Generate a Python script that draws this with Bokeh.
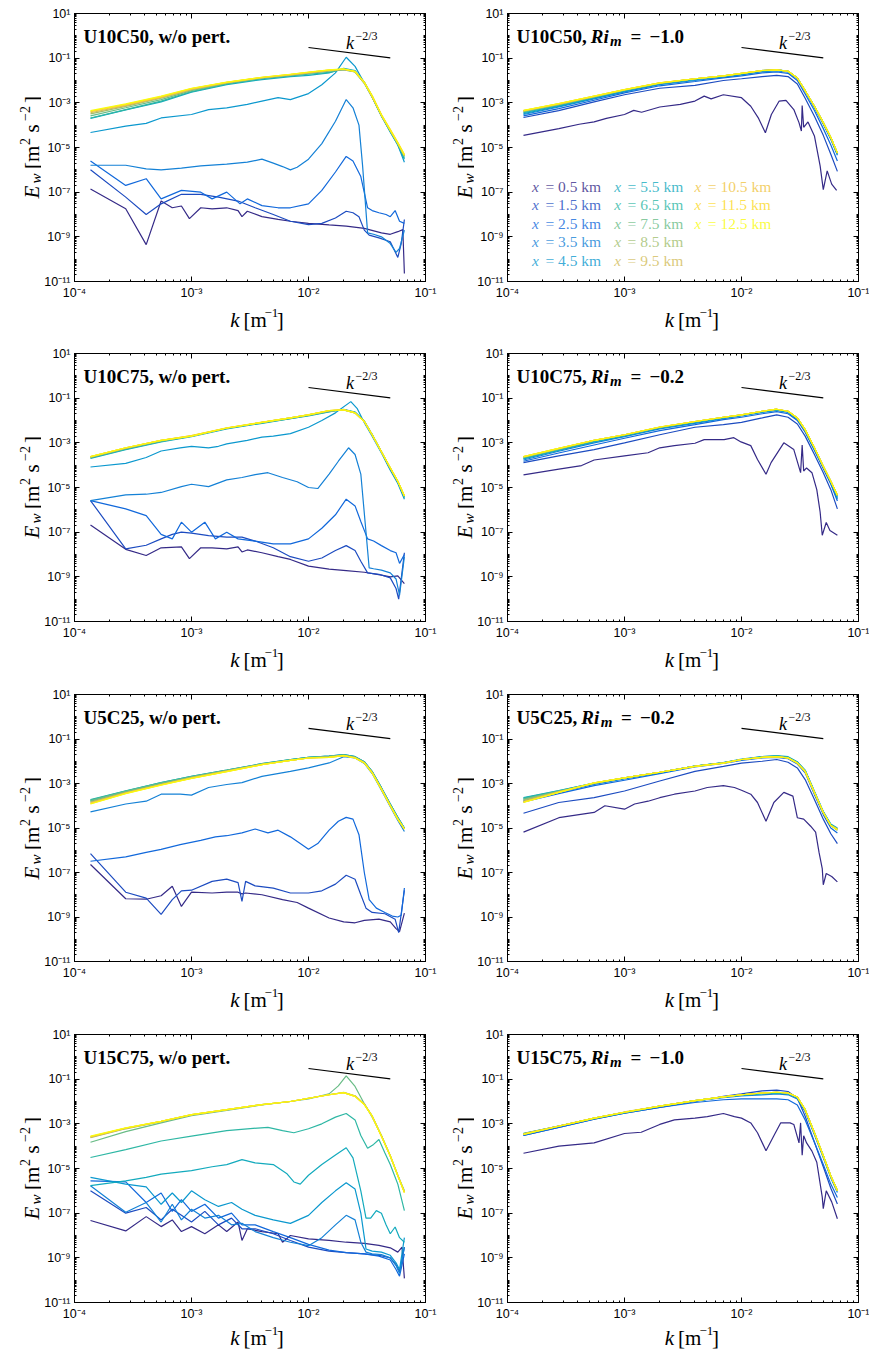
import math

from bokeh.embed import file_html
from bokeh.layouts import column, row
from bokeh.models import FixedTicker, Label, LogAxis, Range1d
from bokeh.plotting import figure
from bokeh.resources import INLINE

# ---------------------------------------------------------------- series
DISTANCES_KM = [0.5, 1.5, 2.5, 3.5, 4.5, 5.5, 6.5, 7.5, 8.5, 9.5, 10.5, 11.5, 12.5]
LINE_COLORS = ["#352A87", "#1C4BC0", "#1168DB", "#1481D6", "#0B98CE", "#13AABD", "#2EB7A4",
               "#69BC86", "#A0BE6D", "#D1BB59", "#EFC43F", "#FCD926", "#F9FB0E"]

# common wavenumber grid [1/m] for the well-developed spectra
KB = [1.37e-4, 2.74e-4, 5.5e-4, 1e-3, 2e-3, 4e-3, 7e-3, 1e-2, 1.5e-2, 2e-2, 2.5e-2,
      3e-2, 3.5e-2, 4.2e-2, 5e-2, 5.8e-2, 6.6e-2]

# reference slope k^(-2/3)
REF_K = [1e-2, 5e-2]
REF_E = [0.3, 0.103]

# --- U10C50, no perturbation
U10C50_NOPERT = [
    ([1.37e-4, 2.74e-4, 4.1e-4, 5.5e-4, 6.85e-4, 8.2e-4, 9.6e-4, 1.2e-3, 1.5e-3, 2e-3, 2.5e-3, 2.7e-3, 3e-3,
      4e-3, 5.5e-3, 7e-3, 1e-2, 1.5e-2, 2.1e-2, 3e-2, 4.2e-2, 5e-2, 5.8e-2, 6.4e-2, 6.6e-2],
     [1.4e-7, 1.8e-8, 4.5e-10, 4e-8, 2e-8, 2.4e-8, 6.5e-9, 2e-8, 1.8e-8, 2e-8, 1.5e-8, 8e-9, 1.4e-8,
      8e-9, 6e-9, 5e-9, 4e-9, 3.4e-9, 3e-9, 2.4e-9, 1.5e-9, 1.3e-9, 1.7e-9, 2.1e-9, 2.3e-11]),
    ([1.37e-4, 2.74e-4, 4.1e-4, 5.5e-4, 8.2e-4, 1.2e-3, 1.7e-3, 2.5e-3, 3.5e-3, 5e-3, 7e-3, 1e-2, 1.3e-2,
      1.7e-2, 2.1e-2, 2.4e-2, 2.7e-2, 3e-2, 3.3e-2, 4e-2, 5e-2, 5.8e-2, 6.2e-2, 6.6e-2],
     [1e-6, 6e-8, 1e-8, 3e-8, 8e-8, 8e-8, 6e-8, 4e-8, 2e-8, 1e-8, 5e-9, 3.5e-9, 4e-9,
      7e-9, 1.4e-8, 1.2e-8, 8e-9, 2e-9, 1.2e-9, 9e-10, 6e-10, 1.2e-10, 5e-10, 6e-9]),
    ([1.37e-4, 2.74e-4, 4.1e-4, 5.5e-4, 8.2e-4, 1.2e-3, 1.5e-3, 2e-3, 2.6e-3, 3e-3, 4e-3, 5.5e-3, 7e-3,
      1e-2, 1.3e-2, 1.7e-2, 2.1e-2, 2.4e-2, 2.8e-2, 3.2e-2, 3.5e-2, 4e-2, 4.6e-2, 5e-2, 5.5e-2, 6e-2, 6.6e-2],
     [2.5e-6, 2e-7, 4e-7, 5e-8, 1.2e-7, 1e-7, 5e-8, 1e-7, 3e-8, 5e-8, 2.5e-8, 2e-8, 2e-8,
      3e-8, 1.2e-7, 8e-7, 4e-6, 2.5e-6, 5e-7, 2e-8, 1.5e-8, 1.2e-8, 1e-8, 8e-9, 1.5e-8, 5e-9, 4e-9]),
    ([1.37e-4, 2.74e-4, 4.1e-4, 5.5e-4, 8.2e-4, 1.2e-3, 2e-3, 3e-3, 4e-3, 5e-3, 6e-3, 7e-3, 8e-3,
      1e-2, 1.3e-2, 1.7e-2, 2.1e-2, 2.4e-2, 2.7e-2, 2.9e-2, 3.2e-2, 3.6e-2, 4.2e-2, 5e-2, 5.6e-2, 6e-2, 6.6e-2],
     [1.6e-6, 1.6e-6, 1.1e-6, 1e-6, 1.2e-6, 1.5e-6, 1.8e-6, 2.2e-6, 3e-6, 2e-6, 1.4e-6, 1e-6, 1.3e-6,
      3e-6, 1.5e-5, 1.5e-4, 1.4e-3, 6e-4, 1e-4, 1.5e-6, 1.5e-9, 1.3e-9, 1e-9, 5e-10, 2e-10, 3e-10, 2e-9]),
    ([1.37e-4, 2.74e-4, 4.1e-4, 5.5e-4, 1e-3, 1.4e-3, 2e-3, 3e-3, 4e-3, 5.5e-3, 7e-3, 1e-2, 1.3e-2,
      1.7e-2, 2.1e-2, 2.5e-2, 3e-2, 3.5e-2, 4.2e-2, 5e-2, 5.8e-2, 6.6e-2],
     [4.7e-5, 9e-5, 1.2e-4, 2.1e-4, 3e-4, 5e-4, 6e-4, 8.5e-4, 1.2e-3, 1.7e-3, 1.4e-3, 2.6e-3, 6.5e-3,
      2.2e-2, 1.1e-1, 4.3e-2, 7.7e-3, 1.8e-3, 2.5e-4, 5e-5, 1.3e-5, 2.2e-6]),
    (KB, [2e-4, 4.8e-4, 1.1e-3, 3e-3, 6.5e-3, 1.1e-2, 1.5e-2, 1.7e-2, 2.2e-2, 3.5e-2, 2.8e-2, 8.5e-3, 2e-3, 2.7e-4, 5e-5, 1.3e-5, 3e-6]),
    (KB, [2.1e-4, 5e-4, 1.2e-3, 3.2e-3, 7e-3, 1.2e-2, 1.6e-2, 1.9e-2, 2.3e-2, 3.2e-2, 2.6e-2, 8e-3, 1.9e-3, 2.7e-4, 5.5e-5, 1.4e-5, 3.5e-6]),
    (KB, [2.6e-4, 6e-4, 1.4e-3, 3.5e-3, 7.5e-3, 1.3e-2, 1.7e-2, 2.1e-2, 2.6e-2, 3e-2, 2.4e-2, 7.5e-3, 1.8e-3, 2.6e-4, 5.5e-5, 1.4e-5, 4e-6]),
    (KB, [3.2e-4, 7e-4, 1.6e-3, 3.8e-3, 7.8e-3, 1.3e-2, 1.8e-2, 2.2e-2, 2.7e-2, 3.1e-2, 2.4e-2, 7.5e-3, 1.8e-3, 2.7e-4, 5.5e-5, 1.5e-5, 4.2e-6]),
    (KB, [3.6e-4, 7.5e-4, 1.7e-3, 4e-3, 8e-3, 1.35e-2, 1.8e-2, 2.2e-2, 2.8e-2, 3.1e-2, 2.5e-2, 8e-3, 1.9e-3, 2.8e-4, 5.8e-5, 1.5e-5, 4.4e-6]),
    (KB, [4e-4, 8e-4, 1.8e-3, 4.2e-3, 8.2e-3, 1.35e-2, 1.85e-2, 2.3e-2, 2.9e-2, 3.2e-2, 2.5e-2, 8e-3, 2e-3, 2.9e-4, 6e-5, 1.6e-5, 4.6e-6]),
    (KB, [4.2e-4, 8.5e-4, 1.9e-3, 4.3e-3, 8.3e-3, 1.4e-2, 1.9e-2, 2.3e-2, 2.9e-2, 3.2e-2, 2.6e-2, 8.5e-3, 2.1e-3, 3e-4, 6.5e-5, 1.7e-5, 5e-6]),
    (KB, [4.5e-4, 9e-4, 2e-3, 4.5e-3, 8.5e-3, 1.4e-2, 1.9e-2, 2.4e-2, 3e-2, 3.3e-2, 2.5e-2, 8e-3, 2e-3, 2.8e-4, 6e-5, 1.6e-5, 4.5e-6]),
]

# --- U10C50, Ri_m = -1.0
U10C50_RI10 = [
    ([1.37e-4, 2.75e-4, 4.1e-4, 5.5e-4, 7e-4, 1e-3, 1.2e-3, 1.4e-3, 2e-3, 3e-3, 4e-3, 4.8e-3, 5.5e-3, 7e-3,
      1e-2, 1.2e-2, 1.4e-2, 1.6e-2, 1.8e-2, 2.1e-2, 2.4e-2, 2.8e-2, 3.1e-2, 3.25e-2, 3.3e-2, 3.4e-2, 3.7e-2,
      4.2e-2, 4.7e-2, 5e-2, 5.4e-2, 5.9e-2, 6.5e-2],
     [3.5e-5, 7e-5, 1.1e-4, 1.4e-4, 2e-4, 3e-4, 4.6e-4, 3.8e-4, 6.5e-4, 8.5e-4, 1.2e-3, 2e-3, 1.5e-3, 2.3e-3,
      1.7e-3, 7e-4, 2e-4, 4.6e-5, 3e-4, 1.2e-3, 1.3e-3, 5e-4, 1.3e-4, 5.5e-5, 7.5e-4, 8e-5, 1.4e-4,
      3.3e-5, 1.5e-6, 1.3e-7, 9e-7, 2.3e-7, 1.2e-7]),
    (KB, [2.2e-4, 4.5e-4, 1.1e-3, 2.3e-3, 4.5e-3, 6e-3, 1e-2, 1.2e-2, 1.5e-2, 1.7e-2, 1.5e-2, 7e-3, 1.6e-3, 2.5e-4, 3.5e-5, 5e-6, 8.5e-7]),
    (KB, [2.6e-4, 5.5e-4, 1.3e-3, 2.8e-3, 5.8e-3, 9e-3, 1.3e-2, 1.6e-2, 2.2e-2, 2.4e-2, 2.1e-2, 1e-2, 2.5e-3, 4.5e-4, 7e-5, 1.3e-5, 2.5e-6]),
    (KB, [3e-4, 6.5e-4, 1.5e-3, 3.1e-3, 6.5e-3, 1e-2, 1.4e-2, 1.8e-2, 2.5e-2, 2.7e-2, 2.4e-2, 1.2e-2, 3.2e-3, 6e-4, 1.1e-4, 2.3e-5, 4.5e-6]),
    (KB, [3.3e-4, 7e-4, 1.6e-3, 3.3e-3, 7e-3, 1.1e-2, 1.5e-2, 1.9e-2, 2.6e-2, 2.9e-2, 2.5e-2, 1.3e-2, 3.4e-3, 6.5e-4, 1.2e-4, 2.6e-5, 5e-6]),
    (KB, [3.6e-4, 7.5e-4, 1.7e-3, 3.5e-3, 7.2e-3, 1.15e-2, 1.55e-2, 2e-2, 2.8e-2, 3.1e-2, 2.6e-2, 1.3e-2, 3.5e-3, 7e-4, 1.3e-4, 2.8e-5, 5.5e-6]),
    (KB, [3.8e-4, 8e-4, 1.8e-3, 3.6e-3, 7.4e-3, 1.15e-2, 1.55e-2, 2e-2, 2.8e-2, 3e-2, 2.6e-2, 1.3e-2, 3.5e-3, 7e-4, 1.3e-4, 2.8e-5, 5.6e-6]),
    (KB, [4e-4, 8.3e-4, 1.85e-3, 3.7e-3, 7.5e-3, 1.2e-2, 1.6e-2, 2e-2, 2.7e-2, 3e-2, 2.6e-2, 1.3e-2, 3.5e-3, 7e-4, 1.3e-4, 2.8e-5, 5.6e-6]),
    (KB, [4.2e-4, 8.6e-4, 1.9e-3, 3.8e-3, 7.6e-3, 1.2e-2, 1.6e-2, 2.1e-2, 2.8e-2, 3e-2, 2.6e-2, 1.3e-2, 3.5e-3, 7e-4, 1.3e-4, 2.8e-5, 5.6e-6]),
    (KB, [4.3e-4, 8.8e-4, 1.9e-3, 3.8e-3, 7.7e-3, 1.2e-2, 1.6e-2, 2.1e-2, 2.8e-2, 3e-2, 2.6e-2, 1.3e-2, 3.5e-3, 7e-4, 1.3e-4, 2.8e-5, 5.6e-6]),
    (KB, [4.5e-4, 9e-4, 2e-3, 3.9e-3, 7.8e-3, 1.2e-2, 1.6e-2, 2.1e-2, 2.8e-2, 3e-2, 2.6e-2, 1.3e-2, 3.5e-3, 7e-4, 1.3e-4, 2.8e-5, 5.6e-6]),
    (KB, [4.5e-4, 9.2e-4, 2e-3, 3.9e-3, 7.8e-3, 1.2e-2, 1.6e-2, 2.1e-2, 2.8e-2, 3e-2, 2.6e-2, 1.3e-2, 3.5e-3, 7e-4, 1.3e-4, 2.8e-5, 5.8e-6]),
    (KB, [4.6e-4, 9.3e-4, 2e-3, 3.9e-3, 7.8e-3, 1.2e-2, 1.6e-2, 2.1e-2, 2.8e-2, 3e-2, 2.6e-2, 1.3e-2, 3.5e-3, 7e-4, 1.3e-4, 2.8e-5, 5.6e-6]),
]

# --- U10C75, no perturbation
U10C75_NOPERT = [
    ([1.37e-4, 2.74e-4, 4.1e-4, 5.5e-4, 8.2e-4, 9.6e-4, 1.2e-3, 1.5e-3, 2e-3, 2.5e-3, 2.7e-3, 3e-3, 4e-3,
      5.5e-3, 7e-3, 1e-2, 1.5e-2, 2.1e-2, 3e-2, 4.2e-2, 5e-2, 5.8e-2, 6.6e-2],
     [2.1e-7, 1.7e-8, 9e-9, 2e-8, 2.2e-8, 6.5e-9, 2e-8, 2e-8, 1.8e-8, 2.2e-8, 1.3e-8, 1.6e-8, 1.2e-8,
      8e-9, 6e-9, 3e-9, 2.2e-9, 1.9e-9, 1.6e-9, 1.2e-9, 1e-9, 1.1e-9, 5e-10]),
    ([1.37e-4, 2.74e-4, 4.1e-4, 5.5e-4, 6.85e-4, 8.2e-4, 1e-3, 1.4e-3, 2e-3, 2.7e-3, 3.5e-3, 5e-3, 7e-3,
      1e-2, 1.3e-2, 1.7e-2, 2.1e-2, 2.5e-2, 2.8e-2, 3.2e-2, 4e-2, 5e-2, 5.6e-2, 5.9e-2, 6.6e-2],
     [2.6e-6, 1.8e-8, 2.6e-8, 5e-8, 8e-8, 1e-7, 9e-8, 7e-8, 6e-8, 6e-8, 4e-8, 2e-8, 8e-9,
      5e-9, 7e-9, 1.5e-8, 2.5e-8, 1.5e-8, 5e-9, 1.5e-9, 1.3e-9, 9e-10, 3e-10, 1e-10, 1.2e-8]),
    ([1.37e-4, 2.74e-4, 4.1e-4, 5.5e-4, 6.85e-4, 8.2e-4, 1e-3, 1.3e-3, 1.6e-3, 2e-3, 2.5e-3, 3.5e-3, 5e-3,
      7e-3, 1e-2, 1.3e-2, 1.7e-2, 2.1e-2, 2.5e-2, 2.8e-2, 3.2e-2, 3.6e-2, 4.2e-2, 5e-2, 5.6e-2, 6e-2, 6.6e-2],
     [2.6e-6, 1.1e-6, 5.5e-7, 8e-8, 5e-8, 2.8e-7, 1e-7, 2.8e-7, 5e-8, 1e-7, 5e-8, 4e-8, 3e-8,
      3e-8, 5e-8, 1.5e-7, 6e-7, 3e-6, 1.5e-6, 3e-7, 5e-8, 4e-8, 2.5e-8, 1.5e-8, 1.2e-8, 4e-9, 1e-8]),
    ([1.37e-4, 2.74e-4, 4.1e-4, 5.5e-4, 8.2e-4, 1e-3, 1.4e-3, 2e-3, 2.7e-3, 3.5e-3, 4.5e-3, 6e-3, 8e-3,
      1e-2, 1.2e-2, 1.5e-2, 1.8e-2, 2.2e-2, 2.5e-2, 2.8e-2, 3.1e-2, 3.3e-2, 3.6e-2, 4.2e-2, 5e-2, 5.6e-2,
      6e-2, 6.6e-2],
     [2.6e-6, 4.7e-6, 5e-6, 6e-6, 1.1e-5, 1.4e-5, 1.1e-5, 2.2e-5, 2.8e-5, 3.8e-5, 4.6e-5, 2.8e-5, 1.8e-5,
      1e-5, 9e-6, 4e-5, 1.5e-4, 6e-4, 3e-4, 4e-5, 1e-7, 2.5e-9, 2.3e-9, 2e-9, 1.5e-9, 8e-10,
      1.5e-10, 8e-9]),
    ([1.37e-4, 2.74e-4, 4.1e-4, 5.5e-4, 8e-4, 1e-3, 1.4e-3, 1.7e-3, 2e-3, 3e-3, 4e-3, 5e-3, 7e-3,
      1e-2, 1.3e-2, 1.7e-2, 2.3e-2, 2.6e-2, 3e-2, 3.5e-2, 4.2e-2, 5e-2, 5.8e-2, 6.6e-2],
     [8.3e-5, 1.2e-4, 2.2e-4, 4.3e-4, 6e-4, 7e-4, 6e-4, 7e-4, 9e-4, 1.3e-3, 1.8e-3, 2e-3, 2.6e-3,
      5e-3, 1e-2, 2.2e-2, 7e-2, 3.5e-2, 8e-3, 2e-3, 3.5e-4, 6e-5, 1.5e-5, 3e-6]),
    (KB, [2e-4, 5e-4, 1.1e-3, 1.9e-3, 4.2e-3, 7.5e-3, 1.2e-2, 1.6e-2, 2.4e-2, 3.2e-2, 2.4e-2, 9.5e-3, 2.4e-3, 4e-4, 7e-5, 1.7e-5, 3.5e-6]),
    (KB, [2.1e-4, 5.2e-4, 1.15e-3, 2e-3, 4.4e-3, 7.8e-3, 1.2e-2, 1.7e-2, 2.5e-2, 3.1e-2, 2.3e-2, 9e-3, 2.3e-3, 4e-4, 7e-5, 1.8e-5, 3.8e-6]),
    (KB, [2.2e-4, 5.5e-4, 1.2e-3, 2e-3, 4.5e-3, 8e-3, 1.25e-2, 1.7e-2, 2.6e-2, 3e-2, 2.2e-2, 9e-3, 2.3e-3, 4e-4, 7.3e-5, 1.8e-5, 4e-6]),
    (KB, [2.3e-4, 5.7e-4, 1.25e-3, 2e-3, 4.5e-3, 8.2e-3, 1.3e-2, 1.8e-2, 2.7e-2, 3e-2, 2.2e-2, 9e-3, 2.3e-3, 4e-4, 7.5e-5, 1.9e-5, 4.1e-6]),
    (KB, [2.35e-4, 5.8e-4, 1.3e-3, 2e-3, 4.6e-3, 8.3e-3, 1.3e-2, 1.8e-2, 2.7e-2, 3e-2, 2.2e-2, 9e-3, 2.3e-3, 4e-4, 7.5e-5, 1.9e-5, 4.2e-6]),
    (KB, [2.4e-4, 5.9e-4, 1.3e-3, 2.1e-3, 4.6e-3, 8.3e-3, 1.3e-2, 1.8e-2, 2.8e-2, 3e-2, 2.2e-2, 9e-3, 2.3e-3, 4e-4, 7.6e-5, 1.9e-5, 4.3e-6]),
    (KB, [2.4e-4, 6e-4, 1.3e-3, 2.1e-3, 4.7e-3, 8.4e-3, 1.3e-2, 1.85e-2, 2.8e-2, 3.1e-2, 2.2e-2, 9e-3, 2.3e-3, 4e-4, 7.6e-5, 1.9e-5, 4.3e-6]),
    (KB, [2.4e-4, 6e-4, 1.3e-3, 2e-3, 4.6e-3, 8.3e-3, 1.3e-2, 1.8e-2, 2.8e-2, 3e-2, 2.2e-2, 9e-3, 2.3e-3, 4e-4, 7.6e-5, 1.9e-5, 4.2e-6]),
]

# --- U10C75, Ri_m = -0.2
U10C75_RI02 = [
    ([1.37e-4, 2.75e-4, 4.3e-4, 5.5e-4, 1e-3, 1.59e-3, 2e-3, 2.67e-3, 4e-3, 4.8e-3, 7.1e-3, 8.6e-3, 9.9e-3,
      1.2e-2, 1.37e-2, 1.62e-2, 1.79e-2, 2.3e-2, 2.8e-2, 3.2e-2, 3.3e-2, 3.4e-2, 3.6e-2, 4e-2, 4.4e-2,
      4.7e-2, 4.9e-2, 5.3e-2, 5.7e-2, 6.6e-2],
     [3.7e-5, 6.6e-5, 9.6e-5, 1.7e-4, 2.6e-4, 3.6e-4, 6e-4, 7.5e-4, 9.6e-4, 1.4e-3, 1.4e-3, 1.7e-3, 1.1e-3,
      7.5e-4, 1.8e-4, 3.9e-5, 1.3e-4, 1e-3, 5e-4, 4.6e-5, 8e-4, 5.5e-5, 7.5e-5, 4.6e-5, 8e-6,
      8e-7, 7.3e-8, 2.7e-7, 1.2e-7, 7.3e-8]),
    (KB, [1.3e-4, 2.6e-4, 5e-4, 1e-3, 2.3e-3, 5e-3, 6.5e-3, 8.3e-3, 1.3e-2, 1.8e-2, 1.4e-2, 7e-3, 2e-3, 3e-4, 4.6e-5, 8e-6, 1.1e-6]),
    (KB, [1.5e-4, 3.5e-4, 8e-4, 1.6e-3, 3.5e-3, 6.5e-3, 1.1e-2, 1.4e-2, 2e-2, 2.5e-2, 2e-2, 1e-2, 3e-3, 4.5e-4, 7e-5, 1.4e-5, 2.5e-6]),
    (KB, [1.7e-4, 4.2e-4, 1e-3, 1.9e-3, 4.2e-3, 7.5e-3, 1.2e-2, 1.6e-2, 2.3e-2, 2.8e-2, 2.3e-2, 1.1e-2, 3.3e-3, 5e-4, 8e-5, 1.6e-5, 3e-6]),
    (KB, [1.9e-4, 4.6e-4, 1.1e-3, 2e-3, 4.5e-3, 8e-3, 1.3e-2, 1.7e-2, 2.4e-2, 3e-2, 2.4e-2, 1.2e-2, 3.6e-3, 5.5e-4, 8.5e-5, 1.8e-5, 3.5e-6]),
    (KB, [2e-4, 4.8e-4, 1.15e-3, 2.1e-3, 4.7e-3, 8.5e-3, 1.3e-2, 1.7e-2, 2.5e-2, 3e-2, 2.5e-2, 1.25e-2, 3.7e-3, 5.7e-4, 8.7e-5, 1.8e-5, 4e-6]),
    (KB, [2.1e-4, 5e-4, 1.2e-3, 2.2e-3, 4.8e-3, 8.6e-3, 1.35e-2, 1.75e-2, 2.5e-2, 3.1e-2, 2.5e-2, 1.3e-2, 3.8e-3, 5.8e-4, 8.8e-5, 1.9e-5, 4.2e-6]),
    (KB, [2.2e-4, 5.2e-4, 1.25e-3, 2.2e-3, 4.9e-3, 8.8e-3, 1.4e-2, 1.8e-2, 2.6e-2, 3.1e-2, 2.6e-2, 1.3e-2, 3.9e-3, 6e-4, 9e-5, 1.9e-5, 4.4e-6]),
    (KB, [2.3e-4, 5.4e-4, 1.3e-3, 2.3e-3, 5e-3, 9e-3, 1.4e-2, 1.8e-2, 2.6e-2, 3.2e-2, 2.6e-2, 1.3e-2, 3.9e-3, 6e-4, 9e-5, 1.9e-5, 4.5e-6]),
    (KB, [2.35e-4, 5.5e-4, 1.3e-3, 2.3e-3, 5e-3, 9e-3, 1.4e-2, 1.8e-2, 2.6e-2, 3.2e-2, 2.6e-2, 1.3e-2, 3.9e-3, 6e-4, 9e-5, 1.9e-5, 4.5e-6]),
    (KB, [2.4e-4, 5.6e-4, 1.3e-3, 2.3e-3, 5.1e-3, 9e-3, 1.4e-2, 1.8e-2, 2.6e-2, 3.2e-2, 2.6e-2, 1.3e-2, 3.9e-3, 6e-4, 9e-5, 1.9e-5, 4.5e-6]),
    (KB, [2.4e-4, 5.6e-4, 1.3e-3, 2.3e-3, 5.1e-3, 9e-3, 1.4e-2, 1.8e-2, 2.6e-2, 3.2e-2, 2.6e-2, 1.3e-2, 3.9e-3, 6e-4, 9e-5, 1.9e-5, 4.6e-6]),
    (KB, [2.4e-4, 5.6e-4, 1.3e-3, 2.3e-3, 5.1e-3, 9e-3, 1.4e-2, 1.8e-2, 2.6e-2, 3.2e-2, 2.6e-2, 1.3e-2, 3.9e-3, 6e-4, 9e-5, 1.9e-5, 4.5e-6]),
]

# --- U5C25, no perturbation
U5C25_NOPERT = [
    ([1.37e-4, 2.74e-4, 4.1e-4, 5.5e-4, 6.85e-4, 8.2e-4, 1e-3, 1.5e-3, 2e-3, 2.5e-3, 2.7e-3, 2.9e-3, 4e-3,
      6e-3, 8e-3, 1e-2, 1.5e-2, 2e-2, 2.5e-2, 3e-2, 4e-2, 5e-2, 5.6e-2, 6e-2, 6.6e-2],
     [2.3e-7, 6.6e-9, 6.3e-9, 9e-9, 2.4e-8, 3e-9, 1.3e-8, 1.2e-8, 1.3e-8, 1.3e-8, 1.1e-8, 1.2e-8, 1e-8,
      6e-9, 4.5e-9, 2.5e-9, 9e-10, 6e-10, 5.5e-10, 7e-10, 8e-10, 6e-10, 3e-10, 2.2e-10, 1.5e-9]),
    ([1.37e-4, 2.74e-4, 4.1e-4, 5.5e-4, 6.85e-4, 8.2e-4, 1e-3, 1.5e-3, 2e-3, 2.5e-3, 2.7e-3, 2.9e-3, 3.5e-3,
      5e-3, 7e-3, 1e-2, 1.3e-2, 1.7e-2, 2.1e-2, 2.5e-2, 2.8e-2, 3.1e-2, 3.5e-2, 4.5e-2, 5.5e-2, 5.9e-2, 6.6e-2],
     [7e-7, 1.3e-8, 7e-9, 1.3e-9, 6e-9, 1.5e-8, 1.6e-8, 4e-8, 5e-8, 3.5e-8, 5e-9, 4e-8, 2.5e-8,
      2e-8, 1.2e-8, 1.2e-8, 1.5e-8, 3e-8, 7.5e-8, 5e-8, 1e-8, 2.5e-9, 1.6e-9, 1.4e-9, 8e-10, 2e-10, 1.6e-8]),
    ([1.37e-4, 2.74e-4, 4.1e-4, 5.5e-4, 8e-4, 1.2e-3, 1.6e-3, 2e-3, 2.7e-3, 3.5e-3, 4.5e-3, 5.5e-3, 7e-3,
      8.5e-3, 1e-2, 1.2e-2, 1.5e-2, 1.8e-2, 2.1e-2, 2.4e-2, 2.7e-2, 3e-2, 3.3e-2, 3.8e-2, 4.5e-2, 5.2e-2,
      5.8e-2, 6.2e-2, 6.6e-2],
     [3.2e-7, 5e-7, 8e-7, 1.1e-6, 1.8e-6, 2.8e-6, 4e-6, 4.5e-6, 6e-6, 9e-6, 6e-6, 8e-6, 4e-6,
      2e-6, 1.1e-6, 2e-6, 8e-6, 2e-5, 3e-5, 2.5e-5, 5e-6, 1e-7, 6e-9, 2.5e-9, 1.6e-9, 1.1e-9,
      1e-9, 1.2e-9, 2e-8]),
    ([1.37e-4, 2.74e-4, 4.1e-4, 5.5e-4, 8e-4, 1e-3, 1.4e-3, 2e-3, 2.7e-3, 4e-3, 7e-3, 1e-2, 1.3e-2,
      1.5e-2, 2e-2, 2.5e-2, 3e-2, 3.5e-2, 4.2e-2, 5e-2, 5.8e-2, 6.6e-2],
     [5.3e-5, 1.2e-4, 1.6e-4, 3.3e-4, 3.3e-4, 3e-4, 6.6e-4, 9e-4, 1.1e-3, 2.1e-3, 3.5e-3, 5e-3, 7e-3,
      8.4e-3, 1.6e-2, 1.4e-2, 8e-3, 2.8e-3, 5e-4, 9e-5, 2.2e-5, 7e-6]),
    (KB, [1.6e-4, 4.2e-4, 1e-3, 2e-3, 3.8e-3, 7.5e-3, 1.15e-2, 1.5e-2, 1.7e-2, 2e-2, 1.6e-2, 9.5e-3, 3.4e-3, 6.5e-4, 1.2e-4, 3e-5, 1e-5]),
    (KB, [1.8e-4, 4.6e-4, 1.1e-3, 2.1e-3, 4e-3, 7.8e-3, 1.2e-2, 1.5e-2, 1.7e-2, 2e-2, 1.6e-2, 9.5e-3, 3.5e-3, 6.5e-4, 1.2e-4, 3e-5, 1e-5]),
    (KB, [1.9e-4, 4.7e-4, 1.1e-3, 2.1e-3, 4e-3, 7.8e-3, 1.2e-2, 1.5e-2, 1.7e-2, 1.9e-2, 1.6e-2, 9.3e-3, 3.4e-3, 6.3e-4, 1.15e-4, 2.8e-5, 9.5e-6]),
    (KB, [1.7e-4, 4.4e-4, 1.05e-3, 2e-3, 3.9e-3, 7.6e-3, 1.15e-2, 1.45e-2, 1.65e-2, 1.9e-2, 1.5e-2, 9e-3, 3.3e-3, 6e-4, 1.1e-4, 2.7e-5, 9e-6]),
    (KB, [1.5e-4, 4e-4, 9.5e-4, 1.9e-3, 3.7e-3, 7.3e-3, 1.1e-2, 1.4e-2, 1.6e-2, 1.85e-2, 1.5e-2, 8.8e-3, 3.2e-3, 5.8e-4, 1.05e-4, 2.6e-5, 9e-6]),
    (KB, [1.4e-4, 3.8e-4, 9e-4, 1.8e-3, 3.6e-3, 7.2e-3, 1.1e-2, 1.4e-2, 1.55e-2, 1.8e-2, 1.45e-2, 8.6e-3, 3.1e-3, 5.6e-4, 1e-4, 2.5e-5, 9e-6]),
    (KB, [1.3e-4, 3.7e-4, 8.8e-4, 1.75e-3, 3.5e-3, 7.1e-3, 1.1e-2, 1.4e-2, 1.5e-2, 1.8e-2, 1.4e-2, 8.5e-3, 3e-3, 5.5e-4, 1e-4, 2.5e-5, 9e-6]),
    (KB, [1.25e-4, 3.6e-4, 8.6e-4, 1.7e-3, 3.4e-3, 7e-3, 1.1e-2, 1.4e-2, 1.5e-2, 1.8e-2, 1.4e-2, 8.4e-3, 3e-3, 5.5e-4, 1e-4, 2.5e-5, 9e-6]),
    (KB, [1.2e-4, 3.5e-4, 8.5e-4, 1.7e-3, 3.4e-3, 7e-3, 1.1e-2, 1.4e-2, 1.5e-2, 1.8e-2, 1.4e-2, 8.4e-3, 3e-3, 5.5e-4, 1e-4, 2.5e-5, 9e-6]),
]

# --- U5C25, Ri_m = -0.2
U5C25_RI02 = [
    ([1.37e-4, 2.75e-4, 5.5e-4, 6.8e-4, 1e-3, 1.22e-3, 1.59e-3, 2e-3, 2.67e-3, 4e-3, 5.1e-3, 7e-3, 8.7e-3,
      1e-2, 1.2e-2, 1.37e-2, 1.62e-2, 1.89e-2, 2.3e-2, 2.75e-2, 3e-2, 3.4e-2, 3.9e-2, 4.3e-2, 4.6e-2,
      4.9e-2, 5e-2, 5.3e-2, 5.9e-2, 6.6e-2],
     [6.5e-6, 2.9e-5, 5e-5, 1e-4, 7e-5, 1.2e-4, 1.6e-4, 2.3e-4, 3.3e-4, 4.6e-4, 6.6e-4, 8e-4, 6.6e-4,
      5e-4, 3.3e-4, 1.4e-4, 2e-5, 1.4e-4, 4e-4, 2.7e-4, 2.9e-5, 2.5e-5, 1.2e-5, 6.5e-6, 8e-7,
      1.5e-7, 2.8e-8, 9e-8, 6.6e-8, 3.8e-8]),
    (KB, [4.6e-5, 1.4e-4, 2.3e-4, 4.6e-4, 1.3e-3, 3.5e-3, 5.9e-3, 8.3e-3, 1e-2, 1.2e-2, 9e-3, 5e-3, 1.5e-3, 1.9e-4, 2.5e-5, 5.5e-6, 2e-6]),
    (KB, [1.5e-4, 3.5e-4, 8e-4, 1.4e-3, 2.8e-3, 5.5e-3, 8e-3, 1.1e-2, 1.4e-2, 1.5e-2, 1.3e-2, 7.5e-3, 3e-3, 3.2e-4, 4e-5, 1e-5, 6e-6]),
    (KB, [1.7e-4, 4e-4, 9e-4, 1.6e-3, 3e-3, 5.8e-3, 8.5e-3, 1.2e-2, 1.5e-2, 1.6e-2, 1.4e-2, 8.5e-3, 3.6e-3, 4e-4, 5e-5, 1.3e-5, 8e-6]),
    (KB, [2e-4, 4.5e-4, 1e-3, 1.7e-3, 3.1e-3, 6e-3, 8.6e-3, 1.2e-2, 1.6e-2, 1.7e-2, 1.5e-2, 9e-3, 3.8e-3, 4.2e-4, 5.3e-5, 1.4e-5, 9e-6]),
    (KB, [2.3e-4, 4.8e-4, 1.05e-3, 1.8e-3, 3.2e-3, 6e-3, 8.6e-3, 1.25e-2, 1.6e-2, 1.8e-2, 1.6e-2, 9.5e-3, 4e-3, 4.5e-4, 5.5e-5, 1.5e-5, 1e-5]),
    (KB, [2.2e-4, 4.7e-4, 1.05e-3, 1.8e-3, 3.2e-3, 6e-3, 8.5e-3, 1.2e-2, 1.55e-2, 1.7e-2, 1.5e-2, 9e-3, 3.8e-3, 4.2e-4, 5.3e-5, 1.4e-5, 9.5e-6]),
    (KB, [2e-4, 4.5e-4, 1e-3, 1.8e-3, 3.2e-3, 6e-3, 8.4e-3, 1.2e-2, 1.5e-2, 1.65e-2, 1.45e-2, 8.6e-3, 3.6e-3, 4e-4, 5e-5, 1.3e-5, 9e-6]),
    (KB, [1.8e-4, 4.3e-4, 1e-3, 1.8e-3, 3.2e-3, 6e-3, 8.4e-3, 1.2e-2, 1.5e-2, 1.6e-2, 1.4e-2, 8.4e-3, 3.5e-3, 3.9e-4, 5e-5, 1.3e-5, 9e-6]),
    (KB, [1.6e-4, 4.2e-4, 1.05e-3, 1.8e-3, 3.2e-3, 5.9e-3, 8.3e-3, 1.2e-2, 1.5e-2, 1.6e-2, 1.4e-2, 8.3e-3, 3.5e-3, 3.9e-4, 5e-5, 1.3e-5, 9e-6]),
    (KB, [1.5e-4, 4e-4, 1.07e-3, 1.8e-3, 3.2e-3, 5.9e-3, 8.3e-3, 1.2e-2, 1.5e-2, 1.6e-2, 1.4e-2, 8.3e-3, 3.5e-3, 3.9e-4, 5e-5, 1.3e-5, 8.5e-6]),
    (KB, [1.45e-4, 4e-4, 1.07e-3, 1.8e-3, 3.2e-3, 5.9e-3, 8.3e-3, 1.2e-2, 1.5e-2, 1.6e-2, 1.4e-2, 8.3e-3, 3.5e-3, 3.9e-4, 5e-5, 1.3e-5, 8.5e-6]),
    (KB, [1.4e-4, 4e-4, 1.07e-3, 1.8e-3, 3.2e-3, 5.9e-3, 8.3e-3, 1.2e-2, 1.5e-2, 1.6e-2, 1.4e-2, 8.3e-3, 3.5e-3, 3.9e-4, 5e-5, 1.3e-5, 8e-6]),
]

# --- U15C75, no perturbation
K_LOW = [1.37e-4, 2.74e-4, 4.1e-4, 5.5e-4, 6.85e-4, 8.2e-4, 1e-3, 1.3e-3, 1.7e-3, 2.2e-3, 2.7e-3, 3.5e-3,
         5e-3, 7e-3, 1e-2, 1.5e-2, 2.1e-2, 3e-2, 4e-2, 5e-2, 5.6e-2, 6e-2, 6.6e-2]
K_BUMP = [1.37e-4, 2.74e-4, 4.1e-4, 5.5e-4, 6.85e-4, 8.2e-4, 1e-3, 1.3e-3, 1.7e-3, 2.2e-3, 2.7e-3, 3.5e-3,
          5e-3, 7e-3, 1e-2, 1.3e-2, 1.7e-2, 2.1e-2, 2.5e-2, 2.8e-2, 3.1e-2, 3.5e-2, 4.2e-2, 5e-2, 5.6e-2,
          6e-2, 6.6e-2]
U15C75_NOPERT = [
    ([1.37e-4, 2.74e-4, 4.1e-4, 5.5e-4, 6.85e-4, 8.2e-4, 1e-3, 1.3e-3, 1.7e-3, 2e-3, 2.5e-3, 2.7e-3, 3e-3,
      4e-3, 5.5e-3, 6e-3, 7e-3, 1e-2, 1.5e-2, 2.1e-2, 3e-2, 4e-2, 5e-2, 5.8e-2, 6.3e-2, 6.6e-2],
     [4.7e-8, 1.6e-8, 7e-8, 2.5e-8, 5e-8, 1.5e-8, 2.5e-8, 1.2e-8, 3e-8, 1.5e-8, 4e-8, 6e-9, 2e-8,
      1.5e-8, 1.2e-8, 5e-9, 1e-8, 7e-9, 6e-9, 5e-9, 4.4e-9, 3.6e-9, 2.8e-9, 1.8e-9, 3e-9, 1.2e-10]),
    (K_LOW, [1e-6, 1e-7, 1.8e-7, 5e-8, 1.5e-7, 8e-8, 4e-8, 1.2e-7, 3e-8, 6e-8, 2e-8, 2e-8,
             1.2e-8, 6e-9, 3e-9, 2e-9, 1.7e-9, 1.5e-9, 1.3e-9, 1e-9, 5e-10, 2.5e-10, 3e-9]),
    (K_LOW, [2.8e-6, 2.5e-6, 3e-7, 8e-7, 1.2e-7, 4e-7, 1.2e-7, 2.5e-7, 6e-8, 1e-7, 3e-8, 3e-8,
             1.5e-8, 8e-9, 4e-9, 2.2e-9, 1.7e-9, 1.5e-9, 1.2e-9, 8e-10, 3e-10, 1.5e-10, 1.5e-9]),
    (K_BUMP, [1.7e-6, 1.1e-7, 3e-7, 4e-8, 2.5e-7, 5e-8, 1.5e-7, 6e-8, 8e-8, 3e-8, 3.5e-8, 1.5e-8,
              8e-9, 5e-9, 3.5e-9, 8e-9, 3e-8, 8e-8, 5e-8, 5e-9, 1.8e-9, 1.5e-9, 1.4e-9, 1e-9, 4.5e-10,
              2e-10, 3e-9]),
    (K_BUMP, [4e-6, 2e-6, 1.5e-6, 2.5e-7, 8e-7, 3e-7, 1e-6, 4e-7, 2e-7, 3e-7, 1.5e-7, 8e-8,
              5e-8, 3.5e-8, 8e-8, 3e-7, 1e-6, 2.3e-6, 1.2e-6, 1e-7, 2.5e-9, 2e-9, 1.8e-9, 1.3e-9, 6e-10,
              3e-10, 8e-9]),
    ([1.37e-4, 2.74e-4, 4.1e-4, 5.5e-4, 1e-3, 1.5e-3, 2e-3, 2.7e-3, 3.5e-3, 5e-3, 6.5e-3, 7.5e-3, 8.5e-3,
      1e-2, 1.3e-2, 1.7e-2, 2.1e-2, 2.4e-2, 2.8e-2, 3.1e-2, 3.4e-2, 3.8e-2, 4.2e-2, 4.6e-2, 5e-2, 5.5e-2,
      6e-2, 6.6e-2],
     [1.7e-6, 2.8e-6, 4e-6, 5.6e-6, 8e-6, 1.2e-5, 1.5e-5, 2.5e-5, 1.8e-5, 1.5e-5, 6e-6, 2.5e-6, 2e-6,
      5e-6, 1.5e-5, 4e-5, 8.5e-5, 3e-5, 1e-6, 6e-8, 6e-8, 1.3e-7, 1e-7, 3e-8, 1.2e-8, 2.4e-8,
      8e-9, 5e-9]),
    ([1.37e-4, 2.74e-4, 5.5e-4, 1e-3, 2e-3, 3e-3, 4.5e-3, 6e-3, 7.5e-3, 1e-2, 1.3e-2, 1.7e-2, 2.1e-2,
      2.5e-2, 2.8e-2, 3.2e-2, 3.6e-2, 4e-2, 4.5e-2, 5e-2, 5.8e-2, 6.6e-2],
     [3.1e-5, 7e-5, 1.7e-4, 2.8e-4, 5e-4, 6e-4, 7e-4, 5e-4, 4e-4, 6e-4, 1e-3, 2e-3, 2.9e-3,
      1.5e-3, 3e-4, 8e-5, 1.2e-4, 2e-4, 5e-5, 1.5e-5, 2e-6, 1.3e-7]),
    ([1.37e-4, 2.74e-4, 5.5e-4, 1e-3, 2e-3, 4e-3, 7e-3, 1e-2, 1.5e-2, 1.8e-2, 2.1e-2, 2.5e-2, 3e-2,
      3.5e-2, 4.2e-2, 5e-2, 5.8e-2, 6.6e-2],
     [1.5e-4, 4.5e-4, 1.1e-3, 2.3e-3, 4e-3, 7e-3, 1e-2, 1.3e-2, 2.2e-2, 5e-2, 1.4e-1, 4.7e-2, 8e-3,
      2e-3, 3e-4, 3.5e-5, 5e-6, 1e-6]),
    (KB, [2.4e-4, 6e-4, 1.25e-3, 2.5e-3, 4.2e-3, 7.2e-3, 1e-2, 1.4e-2, 2e-2, 2.6e-2, 1.8e-2, 7.8e-3, 2.3e-3, 3e-4, 3.8e-5, 5e-6, 9e-7]),
    (KB, [2.5e-4, 6.2e-4, 1.3e-3, 2.5e-3, 4.3e-3, 7.3e-3, 1e-2, 1.4e-2, 2e-2, 2.5e-2, 1.75e-2, 7.5e-3, 2.25e-3, 2.9e-4, 3.7e-5, 4.8e-6, 8.8e-7]),
    (KB, [2.6e-4, 6.4e-4, 1.3e-3, 2.6e-3, 4.3e-3, 7.3e-3, 1e-2, 1.4e-2, 2e-2, 2.5e-2, 1.7e-2, 7.4e-3, 2.2e-3, 2.8e-4, 3.6e-5, 4.7e-6, 8.6e-7]),
    (KB, [2.7e-4, 6.5e-4, 1.3e-3, 2.6e-3, 4.3e-3, 7.3e-3, 1e-2, 1.4e-2, 2e-2, 2.5e-2, 1.7e-2, 7.3e-3, 2.2e-3, 2.8e-4, 3.6e-5, 4.7e-6, 8.5e-7]),
    (KB, [2.8e-4, 6.6e-4, 1.3e-3, 2.6e-3, 4.3e-3, 7.3e-3, 1e-2, 1.4e-2, 2e-2, 2.5e-2, 1.7e-2, 7.3e-3, 2.2e-3, 2.8e-4, 3.6e-5, 4.7e-6, 8.5e-7]),
]

# --- U15C75, Ri_m = -1.0
U15C75_RI10 = [
    ([1.37e-4, 2.75e-4, 5.5e-4, 1e-3, 1.39e-3, 2e-3, 2.67e-3, 4e-3, 5.1e-3, 7e-3, 8.7e-3, 1e-2, 1.2e-2,
      1.37e-2, 1.62e-2, 1.89e-2, 2.16e-2, 2.6e-2, 2.8e-2, 3.1e-2, 3.2e-2, 3.3e-2, 3.4e-2, 3.6e-2, 4e-2,
      4.4e-2, 4.9e-2, 5e-2, 5.3e-2, 5.9e-2, 6.6e-2],
     [4.8e-5, 1e-4, 1.4e-4, 3.7e-4, 4.2e-4, 9.4e-4, 1.5e-3, 1.8e-3, 2.1e-3, 2.9e-3, 2.1e-3, 1.8e-3, 1.1e-3,
      4e-4, 6.2e-5, 2.9e-4, 1.1e-3, 1.1e-3, 9.4e-4, 1.4e-4, 1.1e-3, 3.9e-5, 2.9e-4, 1.4e-4, 6e-5,
      1.9e-5, 5.2e-7, 1.6e-7, 1e-6, 3.2e-7, 5.6e-8]),
    (KB, [3e-4, 7e-4, 1.6e-3, 3e-3, 5.5e-3, 1e-2, 1.7e-2, 2.2e-2, 3e-2, 3.2e-2, 2.8e-2, 1.4e-2, 2.2e-3, 1.5e-4, 1.2e-5, 1.3e-6, 2.6e-7]),
    (KB, [3e-4, 7e-4, 1.6e-3, 3e-3, 5.5e-3, 9e-3, 1.2e-2, 1.3e-2, 1.3e-2, 1.3e-2, 1.2e-2, 7e-3, 1.5e-3, 1.5e-4, 1.5e-5, 2e-6, 5e-7]),
    (KB, [3.2e-4, 7.5e-4, 1.7e-3, 3.2e-3, 6e-3, 1.05e-2, 1.5e-2, 1.8e-2, 2e-2, 2.2e-2, 2e-2, 1.3e-2, 3.5e-3, 3.2e-4, 3e-5, 3.8e-6, 8.5e-7]),
    (KB, [3.4e-4, 7.8e-4, 1.8e-3, 3.3e-3, 6.2e-3, 1.1e-2, 1.6e-2, 2e-2, 2.3e-2, 2.5e-2, 2.3e-2, 1.5e-2, 4e-3, 3.7e-4, 3.4e-5, 4.3e-6, 9.5e-7]),
    (KB, [3.6e-4, 7.8e-4, 1.7e-3, 3.2e-3, 6e-3, 1.05e-2, 1.55e-2, 1.9e-2, 2.2e-2, 2.4e-2, 2.2e-2, 1.5e-2, 4.2e-3, 3.9e-4, 3.6e-5, 4.5e-6, 1e-6]),
    (KB, [3.8e-4, 8e-4, 1.7e-3, 3.2e-3, 6e-3, 1.05e-2, 1.55e-2, 1.9e-2, 2.3e-2, 2.5e-2, 2.3e-2, 1.55e-2, 4.3e-3, 4e-4, 3.7e-5, 4.6e-6, 1e-6]),
    (KB, [3.7e-4, 8e-4, 1.75e-3, 3.3e-3, 6.1e-3, 1.1e-2, 1.6e-2, 2e-2, 2.4e-2, 2.6e-2, 2.4e-2, 1.6e-2, 4.3e-3, 4e-4, 3.7e-5, 4.6e-6, 1e-6]),
    (KB, [3.5e-4, 7.9e-4, 1.8e-3, 3.3e-3, 6.2e-3, 1.1e-2, 1.6e-2, 2e-2, 2.4e-2, 2.6e-2, 2.4e-2, 1.6e-2, 4.3e-3, 4e-4, 3.7e-5, 4.6e-6, 1.05e-6]),
    (KB, [3.6e-4, 8e-4, 1.8e-3, 3.4e-3, 6.3e-3, 1.1e-2, 1.6e-2, 2e-2, 2.4e-2, 2.6e-2, 2.4e-2, 1.6e-2, 4.4e-3, 4.1e-4, 3.8e-5, 4.7e-6, 1.05e-6]),
    (KB, [3.5e-4, 7.9e-4, 1.8e-3, 3.3e-3, 6.2e-3, 1.1e-2, 1.6e-2, 2e-2, 2.4e-2, 2.6e-2, 2.4e-2, 1.6e-2, 4.3e-3, 4e-4, 3.7e-5, 4.6e-6, 1e-6]),
    (KB, [3.4e-4, 7.8e-4, 1.8e-3, 3.3e-3, 6.2e-3, 1.1e-2, 1.6e-2, 2e-2, 2.4e-2, 2.6e-2, 2.4e-2, 1.6e-2, 4.3e-3, 4e-4, 3.7e-5, 4.6e-6, 1e-6]),
    (KB, [3.4e-4, 7.8e-4, 1.8e-3, 3.3e-3, 6.2e-3, 1.1e-2, 1.6e-2, 2e-2, 2.4e-2, 2.6e-2, 2.4e-2, 1.6e-2, 4.3e-3, 4e-4, 3.7e-5, 4.6e-6, 1e-6]),
]

# (case name, Ri_m text or None for the unperturbed runs, spectra)
PANELS = [
    ("U10C50,", None, U10C50_NOPERT), ("U10C50,", "\u22121.0", U10C50_RI10),
    ("U10C75,", None, U10C75_NOPERT), ("U10C75,", "\u22120.2", U10C75_RI02),
    ("U5C25,", None, U5C25_NOPERT), ("U5C25,", "\u22120.2", U5C25_RI02),
    ("U15C75,", None, U15C75_NOPERT), ("U15C75,", "\u22121.0", U15C75_RI10),
]

# ---------------------------------------------------------------- axes
X_MAJOR = [1e-4, 1e-3, 1e-2, 1e-1]
X_TICK_TEXT = ["10\u207b\u2074", "10\u207b\u00b3", "10\u207b\u00b2", "10\u207b\u00b9"]
Y_MAJOR = [1e1, 1e-1, 1e-3, 1e-5, 1e-7, 1e-9, 1e-11]
Y_TICK_TEXT = ["10\u00b9", "10\u207b\u00b9", "10\u207b\u00b3", "10\u207b\u2075", "10\u207b\u2077",
               "10\u207b\u2079", "10\u207b\u00b9\u00b9"]
X_MINOR = [m * 10.0 ** e for e in (-4, -3, -2) for m in range(2, 10)]
Y_MINOR = [m * 10.0 ** e for e in range(-11, 1) for m in range(1, 10)
           if not (m == 1 and e % 2 != 0)]

SERIF = "Liberation Serif"
SANS = "Liberation Sans"

FRAME_W, FRAME_H = 353, 270
DEC_X = FRAME_W / 3.0
DEC_Y = FRAME_H / 12.0

# cell geometry: [y-title strip | spectra figure] over [x-title strip]
YLAB_W = (41, 34)          # strip width, left / right column
YLAB_BASE = (31, 24)       # baseline of the rotated title inside the strip
TICK_BORDER = 31           # room for the y tick labels inside the spectra figure
RIGHT_BORDER = (15, 11)
BOTTOM_BORDER = 19         # room for the x tick labels inside the spectra figure
XLAB_H = (38, 26)          # x-title strip height, rows 1-3 / row 4
XLAB_BASE = (17, 14)       # x-title baseline below the top of its strip

# pieces of the axis titles: (text, font px, style, offset across baseline, offset along)
Y_TITLE = [("E", 21, "italic", 0, 0), ("w", 15, "italic", 4, 15),
           ("[m", 21, "normal", 0, 29.5), ("2", 14, "normal", -7, 53.5),
           ("s", 21, "normal", 0, 66), ("\u22122", 14, "normal", -7, 77.5),
           ("]", 21, "normal", 0, 95.5)]
X_TITLE = [("k", 21, "italic", 0, 146), ("[m", 21, "normal", 0, 161),
           ("\u22121", 13, "normal", 6.5, 185), ("]", 21, "normal", 0, 199)]


def at(px, py):
    """Frame-relative offset in pixels (right, down) -> data coordinates."""
    return 10 ** (-4 + px / DEC_X), 10 ** (1 - py / DEC_Y)


def label(p, x, y, text, size, style="normal", angle=0.0, color="black", alpha=1.0):
    p.add_layout(Label(x=x, y=y, text=text, text_font=SERIF, text_font_size=f"{size}px",
                       text_font_style=style, angle=angle, text_color=color, text_alpha=alpha,
                       text_align="left", text_baseline="alphabetic"))


def put(p, px, py, text, size, style="normal", color="black", alpha=1.0):
    x, y = at(px, py)
    label(p, x, y, text, size, style, color=color, alpha=alpha)


def text_strip(width, height):
    """Blank figure whose frame fills it, used to hold axis titles as real text."""
    f = figure(width=width, height=height, x_range=Range1d(0, width), y_range=Range1d(0, height),
               x_axis_location=None, y_axis_location=None,
               output_backend="svg", toolbar_location=None, tools="")
    f.title = None
    f.min_border = 0
    f.min_border_left = f.min_border_right = f.min_border_top = f.min_border_bottom = 0
    f.outline_line_color = None
    f.background_fill_color = "white"
    f.border_fill_color = "white"
    f.grid.visible = False
    return f


def style_axis(ax, ticks, minor, labels=None):
    ax.ticker = FixedTicker(ticks=ticks, minor_ticks=minor)
    ax.axis_line_color = "black"
    ax.axis_line_width = 1
    ax.major_tick_in = 5
    ax.major_tick_out = 0
    ax.minor_tick_in = 2
    ax.minor_tick_out = 0
    ax.major_tick_line_color = "black"
    ax.minor_tick_line_color = "black"
    if labels is None:
        # mirrored box ticks only, labels hidden
        ax.major_label_text_font_size = "1px"
        ax.major_label_text_alpha = 0.0
        ax.major_label_standoff = 0
    else:
        ax.major_label_overrides = dict(zip(ticks, labels))
        ax.major_label_text_font = SANS
        ax.major_label_text_font_size = "12.5px"
        ax.major_label_text_color = "black"
        ax.major_label_standoff = 4


BOLD_W = {"U": 0.722, "C": 0.722, ",": 0.25}


def make_cell(idx):
    name, ri, spectra = PANELS[idx]
    r, c = divmod(idx, 2)
    cell_w = 440 if c == 0 else 429
    cell_h = 329 if r == 3 else 340
    top_border = 13 if r < 2 else 14
    last = 1 if r == 3 else 0
    xlab_h = XLAB_H[last]
    main_w = cell_w - YLAB_W[c]
    main_h = cell_h - xlab_h

    p = figure(width=main_w, height=main_h, x_axis_type="log", y_axis_type="log",
               x_range=Range1d(1e-4, 1e-1), y_range=Range1d(1e-11, 1e1),
               output_backend="svg", toolbar_location=None, tools="")
    p.min_border_left = TICK_BORDER
    p.min_border_right = RIGHT_BORDER[c]
    p.min_border_top = top_border
    p.min_border_bottom = BOTTOM_BORDER
    p.background_fill_color = "white"
    p.border_fill_color = "white"
    p.outline_line_color = "black"
    p.outline_line_width = 1
    p.xgrid.visible = False
    p.ygrid.visible = False

    style_axis(p.xaxis[0], X_MAJOR, X_MINOR, X_TICK_TEXT)
    style_axis(p.yaxis[0], Y_MAJOR, Y_MINOR, Y_TICK_TEXT)
    top = LogAxis()
    style_axis(top, X_MAJOR, X_MINOR)
    p.add_layout(top, "above")
    right = LogAxis()
    style_axis(right, Y_MAJOR, Y_MINOR)
    p.add_layout(right, "right")

    # spectra, nearest station first so the far-field curves sit on top
    for (k, e), color in zip(spectra, LINE_COLORS):
        n = min(len(k), len(e))
        p.line(k[:n], e[:n], line_color=color, line_width=1.2)

    # k^(-2/3) reference slope
    p.line(REF_K, REF_E, line_color="black", line_width=1.2)
    put(p, 273, 30, "k", 18, "italic")
    put(p, 282.5, 22.5, "\u22122/3", 12)

    # case title
    if ri is None:
        put(p, 9, 23, name + " w/o pert.", 19, "bold")
    else:
        put(p, 9, 23, name, 19, "bold")
        ri_x = 9 + 19 * sum(BOLD_W.get(ch, 0.5) for ch in name) + 4.5
        put(p, ri_x, 23, "Ri", 19, "bold italic")
        put(p, ri_x + 19.5, 27.5, "m", 15, "bold italic")
        put(p, ri_x + 40, 23, "=", 19, "bold")
        put(p, ri_x + 59, 23, ri, 19, "bold")

    # station legend (first perturbed panel only)
    if idx == 1:
        cols = [24.7, 107.3, 188.0]
        for i, (dist, color) in enumerate(zip(DISTANCES_KM, LINE_COLORS)):
            col = 0 if i < 5 else (1 if i < 10 else 2)
            rw = i if i < 5 else (i - 5 if i < 10 else i - 10)
            py = 174 + 18.7 * rw
            put(p, cols[col], py, "x", 15.5, "italic", color=color, alpha=0.8)
            put(p, cols[col] + 13.5, py, f"= {dist} km", 15.5, color=color, alpha=0.8)

    # y-axis title, rotated: E_w [m^2 s^-2]
    ylab = text_strip(YLAB_W[c], cell_h)
    y0 = cell_h - (top_border + 185)
    bx = YLAB_BASE[c]
    for text, size, style, shift, along in Y_TITLE:
        label(ylab, bx + shift, y0 + along, text, size, style, angle=math.pi / 2)

    # x-axis title: k [m^-1]
    xlab = text_strip(main_w, xlab_h)
    by = xlab_h - XLAB_BASE[last]
    for text, size, style, lift, x0 in X_TITLE:
        label(xlab, TICK_BORDER + x0, by + lift, text, size, style)

    return row(ylab, column(p, xlab))


cells = [make_cell(i) for i in range(8)]
layout = column(*[row(cells[2 * r], cells[2 * r + 1]) for r in range(4)])

open("out.html", "w").write(file_html(layout, INLINE, title="Vertical velocity spectra"))
